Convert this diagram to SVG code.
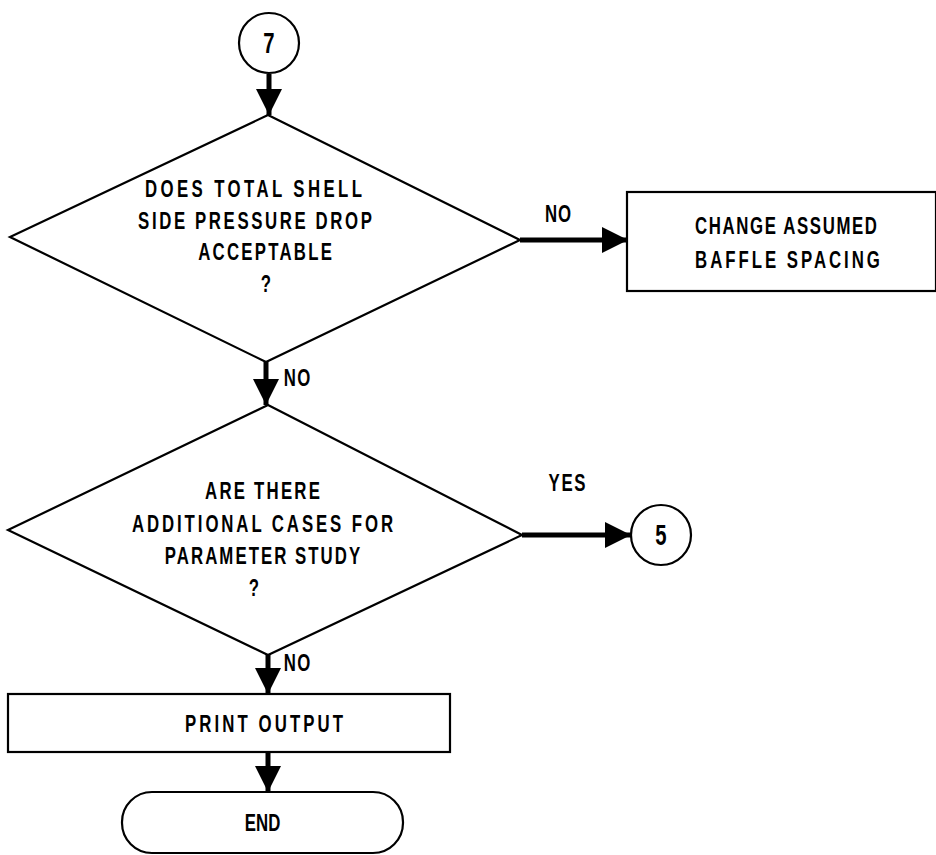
<svg xmlns="http://www.w3.org/2000/svg" width="936" height="855" viewBox="0 0 936 855">
  <style>
    .shape { fill: #fff; stroke: #000; stroke-width: 2.2; }
    .flow { fill: none; stroke: #000; stroke-width: 5; }
    .lbl { font-family: "Liberation Sans", Arial, sans-serif; font-weight: bold; font-size: 24px; fill: #000; text-anchor: middle; }
    .num { font-size: 29px; }
  </style>
  <defs>
    <marker id="head" viewBox="0 0 10 10" refX="10" refY="5" markerWidth="5.2" markerHeight="5.2" orient="auto" markerUnits="strokeWidth">
      <path d="M0,0 L10,5 L0,10 Z" fill="#000"/>
    </marker>
  </defs>
  <rect width="936" height="855" fill="#fff"/>

  <!-- narrow lettering: each label is squeezed to 70% width, then spaced out to its length -->
  <g id="connectors">
    <path class="flow" d="M269,74 V115" marker-end="url(#head)"/>
    <path class="flow" d="M520,240 H628" marker-end="url(#head)"/>
    <path class="flow" d="M266,362 V405" marker-end="url(#head)"/>
    <path class="flow" d="M522,535 H631" marker-end="url(#head)"/>
    <path class="flow" d="M268,655 V694" marker-end="url(#head)"/>
    <path class="flow" d="M268,752 V792" marker-end="url(#head)"/>
    <text class="lbl" transform="translate(558,222) scale(0.7,1)" textLength="37" lengthAdjust="spacing">NO</text>
    <text class="lbl" transform="translate(297,386) scale(0.7,1)" textLength="38" lengthAdjust="spacing">NO</text>
    <text class="lbl" transform="translate(567,491) scale(0.7,1)" textLength="53" lengthAdjust="spacing">YES</text>
    <text class="lbl" transform="translate(297,671) scale(0.7,1)" textLength="38" lengthAdjust="spacing">NO</text>
  </g>

  <g id="connector-7">
    <circle class="shape" cx="269" cy="43" r="30"/>
    <text class="lbl num" transform="translate(269,53) scale(0.7,1)">7</text>
  </g>

  <g id="decision-pressure-drop">
    <path class="shape" d="M268,115 L520,240 L266,362 L10,237 Z"/>
    <text class="lbl" transform="translate(253.5,197) scale(0.7,1)" textLength="310" lengthAdjust="spacing">DOES TOTAL SHELL</text>
    <text class="lbl" transform="translate(255,229) scale(0.7,1)" textLength="334" lengthAdjust="spacing">SIDE PRESSURE DROP</text>
    <text class="lbl" transform="translate(265,260) scale(0.7,1)" textLength="191" lengthAdjust="spacing">ACCEPTABLE</text>
    <text class="lbl" transform="translate(266,292) scale(0.7,1)">?</text>
  </g>

  <g id="change-baffle-spacing">
    <rect class="shape" x="627" y="192" width="309" height="99"/>
    <text class="lbl" transform="translate(786,234) scale(0.7,1)" textLength="260" lengthAdjust="spacing">CHANGE ASSUMED</text>
    <text class="lbl" transform="translate(787.5,268) scale(0.7,1)" textLength="264" lengthAdjust="spacing">BAFFLE SPACING</text>
  </g>

  <g id="decision-more-cases">
    <path class="shape" d="M268,405 L522,535 L268,655 L8,530 Z"/>
    <text class="lbl" transform="translate(262.5,499) scale(0.7,1)" textLength="164" lengthAdjust="spacing">ARE THERE</text>
    <text class="lbl" transform="translate(262.5,532) scale(0.7,1)" textLength="373" lengthAdjust="spacing">ADDITIONAL CASES FOR</text>
    <text class="lbl" transform="translate(262.5,564) scale(0.7,1)" textLength="279" lengthAdjust="spacing">PARAMETER STUDY</text>
    <text class="lbl" transform="translate(254,596) scale(0.7,1)">?</text>
  </g>

  <g id="connector-5">
    <circle class="shape" cx="661" cy="535" r="30"/>
    <text class="lbl num" transform="translate(661,545) scale(0.7,1)">5</text>
  </g>

  <g id="print-output">
    <rect class="shape" x="8" y="694" width="442" height="58"/>
    <text class="lbl" transform="translate(264,732) scale(0.7,1)" textLength="226" lengthAdjust="spacing">PRINT OUTPUT</text>
  </g>

  <g id="end">
    <rect class="shape" x="122" y="792" width="281" height="61" rx="30" ry="30"/>
    <text class="lbl" transform="translate(262.5,831) scale(0.7,1)" textLength="51" lengthAdjust="spacing">END</text>
  </g>
</svg>
